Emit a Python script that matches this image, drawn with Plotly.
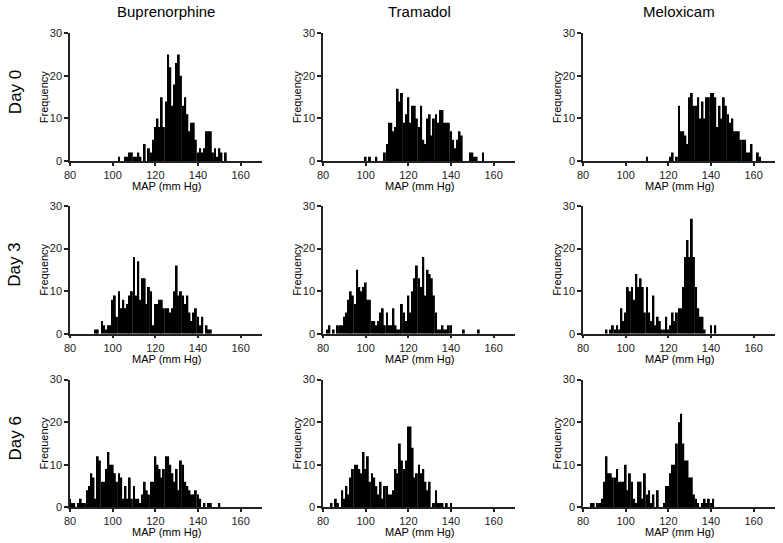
import plotly.graph_objects as go

# ---------------- data ----------------
drugs = ["Buprenorphine", "Tramadol", "Meloxicam"]
days = ["Day 0", "Day 3", "Day 6"]
x_tick_vals = [80, 100, 120, 140, 160]
y_tick_vals = [0, 10, 20, 30]
x_label = "MAP (mm Hg)"
y_label = "Frequency"

# Each histogram: first bin (MAP, mm Hg, 1 mm Hg bins) and the counts per bin
bup_d0_start = 103
bup_d0_freq = [1, 0, 0, 1, 1, 2, 2, 1, 1, 2, 1, 0, 4, 0, 3, 2, 5, 8, 10, 8,
               15, 8, 14, 25, 22, 13, 18, 23, 25, 20, 13, 15, 11, 7, 9, 9, 5, 2, 3, 2,
               3, 7, 7, 7, 2, 3, 1, 3, 2, 0, 2]

tra_d0_start = 100
tra_d0_freq = [1, 0, 1, 0, 0, 1, 0, 0, 0, 2, 4, 9, 9, 7, 8, 17, 14, 16, 9, 11,
               15, 9, 13, 13, 10, 8, 13, 5, 4, 10, 11, 6, 10, 11, 9, 12, 12, 9, 9, 9,
               7, 5, 3, 5, 7, 6, 0, 0, 0, 2, 2, 1, 1, 0, 0, 2]

mel_d0_start = 110
mel_d0_freq = [1, 0, 0, 0, 0, 0, 0, 0, 0, 0, 0, 1, 2, 0, 1, 13, 7, 7, 6, 4,
               15, 16, 13, 13, 15, 10, 14, 10, 15, 15, 16, 16, 15, 8, 13, 10, 15, 13, 11, 9,
               10, 7, 7, 7, 5, 5, 5, 2, 2, 4, 0, 0, 2, 1]

bup_d3_start = 92
bup_d3_freq = [1, 1, 0, 3, 2, 1, 2, 2, 8, 9, 4, 10, 6, 8, 6, 7, 9, 10, 18, 9,
               17, 8, 13, 13, 7, 11, 10, 2, 7, 7, 8, 8, 6, 6, 6, 5, 6, 10, 16, 9,
               10, 9, 7, 9, 5, 3, 5, 6, 4, 2, 4, 0, 2, 1, 1]

tra_d3_start = 82
tra_d3_freq = [1, 2, 0, 1, 0, 2, 2, 2, 4, 5, 8, 10, 9, 7, 15, 11, 10, 11, 12, 8,
               8, 3, 3, 2, 3, 5, 6, 2, 5, 2, 2, 6, 2, 1, 1, 7, 5, 3, 9, 5,
               10, 13, 16, 13, 11, 18, 9, 15, 14, 13, 9, 5, 1, 1, 2, 1, 1, 2, 2, 0,
               0, 0, 0, 0, 1, 0, 0, 0, 0, 0, 0, 1]

mel_d3_start = 91
mel_d3_freq = [1, 0, 1, 2, 1, 2, 1, 6, 3, 5, 11, 10, 11, 8, 14, 11, 13, 11, 5, 11,
               5, 3, 9, 2, 4, 3, 1, 1, 4, 1, 2, 5, 3, 5, 6, 6, 11, 18, 22, 18,
               27, 18, 11, 6, 4, 4, 1, 0, 0, 2, 0, 2]

bup_d6_start = 80
bup_d6_freq = [2, 1, 1, 0, 1, 2, 1, 1, 4, 5, 8, 7, 2, 12, 11, 6, 6, 9, 13, 10,
               10, 8, 6, 8, 7, 2, 5, 2, 7, 2, 5, 2, 2, 1, 3, 6, 4, 3, 6, 6,
               12, 10, 9, 7, 9, 12, 12, 10, 8, 6, 9, 4, 11, 10, 6, 5, 4, 3, 3, 4,
               3, 2, 0, 1, 0, 1, 1, 0, 0, 0, 1]

tra_d6_start = 84
tra_d6_freq = [1, 0, 2, 1, 0, 4, 2, 5, 3, 7, 9, 10, 10, 9, 8, 13, 9, 12, 6, 8,
               7, 5, 3, 6, 2, 5, 5, 3, 3, 4, 9, 8, 15, 11, 9, 11, 19, 19, 14, 7,
               8, 10, 8, 9, 6, 4, 6, 0, 1, 4, 1, 1, 1, 0, 1, 0, 1]

mel_d6_start = 84
mel_d6_freq = [1, 1, 0, 1, 1, 2, 6, 12, 8, 8, 7, 7, 9, 6, 6, 6, 10, 4, 8, 6,
               2, 1, 6, 6, 2, 8, 3, 4, 1, 3, 0, 4, 0, 0, 1, 5, 5, 8, 10, 10,
               15, 20, 22, 15, 11, 11, 7, 7, 3, 2, 1, 0, 1, 2, 1, 2, 1, 2]

panels = [
    (bup_d0_start, bup_d0_freq), (tra_d0_start, tra_d0_freq), (mel_d0_start, mel_d0_freq),
    (bup_d3_start, bup_d3_freq), (tra_d3_start, tra_d3_freq), (mel_d3_start, mel_d3_freq),
    (bup_d6_start, bup_d6_freq), (tra_d6_start, tra_d6_freq), (mel_d6_start, mel_d6_freq),
]

# ---------------- layout geometry (pixels) ----------------
W, H = 783, 543
col_left = [70, 323, 583]
col_width = 192
row_bottom = [161, 333.7, 507.3]
row_height = 127.7

FONT = "Liberation Sans, Arial, sans-serif"
AX = "#222222"

fig = go.Figure()
layout = dict(
    template="none",
    width=W, height=H, margin=dict(l=0, r=0, t=0, b=0),
    paper_bgcolor="white", plot_bgcolor="white",
    showlegend=False, font=dict(family=FONT, size=11, color=AX),
)
annotations = []

for i, (start, freq) in enumerate(panels):
    r, c = divmod(i, 3)
    n = i + 1
    xa = "x" if n == 1 else f"x{n}"
    ya = "y" if n == 1 else f"y{n}"
    xs = [start + k for k in range(len(freq))]
    fig.add_trace(go.Bar(x=xs, y=freq, width=0.9, marker=dict(color="black", line=dict(width=0)),
                         xaxis=xa, yaxis=ya, hoverinfo="skip"))
    x0 = col_left[c] / W
    x1 = (col_left[c] + col_width) / W
    y0 = 1 - row_bottom[r] / H
    y1 = 1 - (row_bottom[r] - row_height) / H
    key_x = "xaxis" if n == 1 else f"xaxis{n}"
    key_y = "yaxis" if n == 1 else f"yaxis{n}"
    layout[key_x] = dict(domain=[x0, x1], range=[80, 170], anchor=ya,
                         tickmode="array", tickvals=x_tick_vals,
                         showline=True, linecolor=AX, linewidth=1.5,
                         ticks="outside", ticklen=3, tickwidth=1.5, tickcolor=AX,
                         showgrid=False, zeroline=False,
                         tickfont=dict(size=11, color=AX, family=FONT))
    layout[key_y] = dict(domain=[y0, y1], range=[0, 30], anchor=xa,
                         tickmode="array", tickvals=y_tick_vals,
                         showline=True, linecolor=AX, linewidth=1.5,
                         ticks="outside", ticklen=4, tickwidth=1.5, tickcolor=AX,
                         showgrid=False, zeroline=False,
                         tickfont=dict(size=11, color=AX, family=FONT))
    # axis titles
    annotations.append(dict(text=x_label, xref="paper", yref="paper",
                            x=(col_left[c] + col_width / 2) / W,
                            y=1 - (row_bottom[r] + 25) / H,
                            showarrow=False, font=dict(size=11, color="black", family=FONT),
                            xanchor="center", yanchor="middle"))
    annotations.append(dict(text=y_label, xref="paper", yref="paper",
                            x=(col_left[c] - 26) / W,
                            y=1 - (row_bottom[r] - row_height / 2) / H,
                            showarrow=False, textangle=-90,
                            font=dict(size=11, color="black", family=FONT),
                            xanchor="center", yanchor="middle"))

# column titles
for c, name in enumerate(drugs):
    annotations.append(dict(text=name, xref="paper", yref="paper",
                            x=(col_left[c] + col_width / 2) / W, y=1 - 12 / H,
                            showarrow=False, font=dict(size=15, color="black", family=FONT),
                            xanchor="center", yanchor="middle"))
# row titles
for r, name in enumerate(days):
    annotations.append(dict(text=name, xref="paper", yref="paper",
                            x=15 / W, y=1 - (row_bottom[r] - row_height / 2 - 5) / H,
                            showarrow=False, textangle=-90,
                            font=dict(size=17, color="black", family=FONT),
                            xanchor="center", yanchor="middle"))

layout["annotations"] = annotations
fig.update_layout(**layout)
fig.write_html("out.html", config={"displayModeBar": False},
               post_script="document.body.style.margin='0px';document.body.style.overflow='hidden';")
